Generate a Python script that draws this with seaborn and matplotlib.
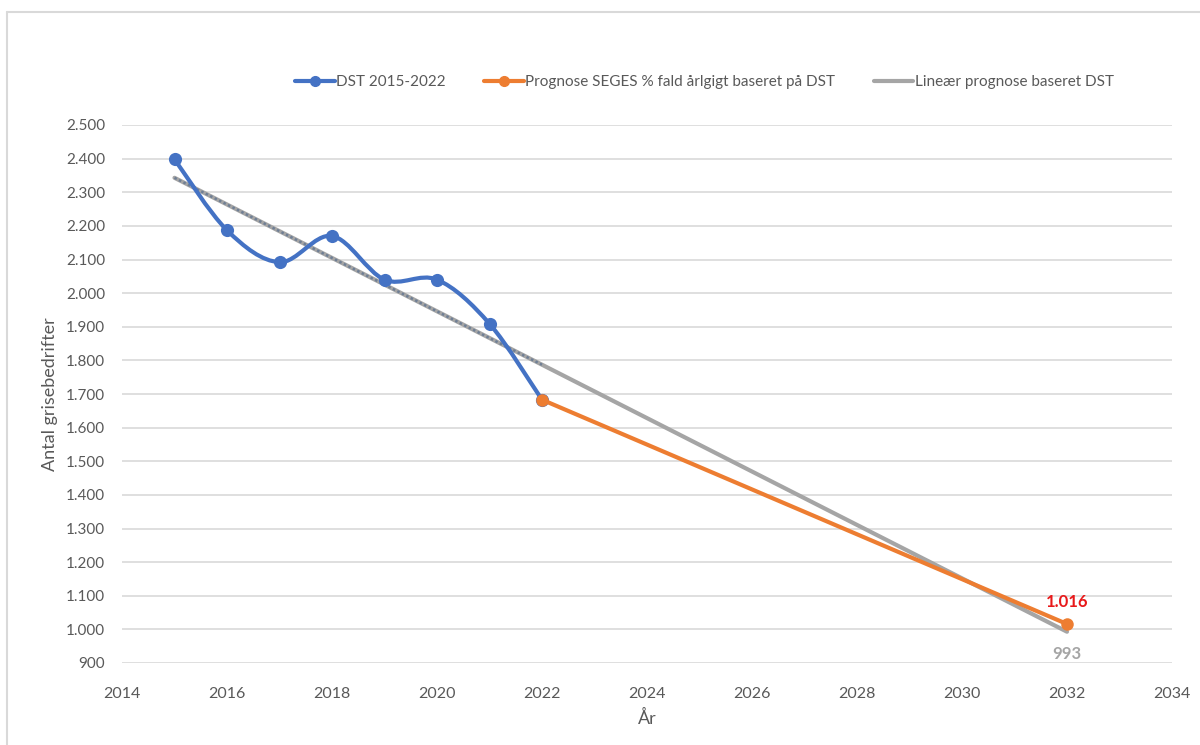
import numpy as np
import pandas as pd
import seaborn as sns
import matplotlib.pyplot as plt
from matplotlib.path import Path
from matplotlib.patches import PathPatch
from matplotlib.lines import Line2D
from matplotlib.ticker import FuncFormatter

# ---- data ----
years_dst = [2015, 2016, 2017, 2018, 2019, 2020, 2021, 2022]
dst = [2398, 2187, 2092, 2170, 2040, 2040, 1909, 1683]
years_seges = [2022, 2032]
seges = [1683, 1016]
years_lin = [2015, 2032]
lin = [2343, 993]
years_trend = [2015, 2022]
trend = [2343, 1787]
labels = ["DST 2015-2022", "Prognose SEGES % fald årlgigt baseret på DST",
          "Lineær prognose baseret DST"]
y_ticks = list(range(900, 2501, 100))
x_ticks = list(range(2014, 2035, 2))

BLUE = "#4472C4"
ORANGE = "#ED7D31"
GRAY = "#A5A5A5"
TXT = "#595959"

sns.set_theme(style="white")
plt.rcParams["font.family"] = ["Lato", "DejaVu Sans"]

fig = plt.figure(figsize=(12, 7.45), dpi=100)
ax = fig.add_axes([122 / 1200, 1 - 663 / 745, 1050 / 1200, 538 / 745])

# linear forecast (gray) + dotted trendline
sns.lineplot(x=years_lin, y=lin, ax=ax, color=GRAY, lw=3, zorder=2)
sns.lineplot(x=years_trend, y=trend, ax=ax, color="#6f7f95", lw=1.8,
             linestyle=(0, (1, 1)), zorder=3)

# smoothed DST curve (Catmull-Rom style Bezier as in Excel)
pts = np.column_stack([years_dst, dst]).astype(float)
verts = [tuple(pts[0])]
codes = [Path.MOVETO]
n = len(pts)
for i in range(n - 1):
    p0 = pts[i - 1] if i > 0 else pts[i]
    p1 = pts[i]
    p2 = pts[i + 1]
    p3 = pts[i + 2] if i + 2 < n else pts[i + 1]
    c1 = p1 + (p2 - p0) / 6.0
    c2 = p2 - (p3 - p1) / 6.0
    verts += [tuple(c1), tuple(c2), tuple(p2)]
    codes += [Path.CURVE4] * 3
ax.add_patch(PathPatch(Path(verts, codes), facecolor="none", edgecolor=BLUE,
                       lw=3, zorder=4, capstyle="round", joinstyle="round"))
sns.scatterplot(x=years_dst, y=dst, ax=ax, color=BLUE, s=90, edgecolor=BLUE,
                linewidth=0, zorder=5)

# SEGES forecast
sns.lineplot(x=years_seges, y=seges, ax=ax, color=ORANGE, lw=3, zorder=6,
             marker="o", markersize=9, markeredgewidth=0)

# annotations
ax.annotate("1.016", (years_seges[-1], seges[-1]), xytext=(0, 10),
            textcoords="offset points", ha="center", va="bottom",
            color="#E8191A", fontsize=12, fontweight="bold")
ax.annotate("993", (years_lin[-1], lin[-1]), xytext=(0, -10),
            textcoords="offset points", ha="center", va="top",
            color=GRAY, fontsize=12, fontweight="bold")

# axes
ax.set_xlim(2014, 2034)
ax.set_ylim(900, 2500)
ax.set_xticks(x_ticks)
ax.set_yticks(y_ticks)
ax.yaxis.set_major_formatter(FuncFormatter(lambda v, p: f"{int(v):,}".replace(",", ".")))
ax.tick_params(axis="both", length=0, labelsize=11, labelcolor=TXT)
ax.tick_params(axis="x", labelsize=11.5, pad=17)
ax.tick_params(axis="y", pad=12)
ax.grid(axis="y", color="#d9d9d9", lw=1.2)
ax.grid(axis="x", visible=False)
for s in ax.spines.values():
    s.set_visible(False)
ax.set_axisbelow(True)
ax.set_xlabel("År", fontsize=13, color=TXT, labelpad=7)
ax.set_ylabel("Antal grisebedrifter", fontsize=13, color=TXT, labelpad=6)

# legend
handles = [
    Line2D([], [], color=BLUE, lw=3, marker="o", markersize=7),
    Line2D([], [], color=ORANGE, lw=3, marker="o", markersize=7),
    Line2D([], [], color=GRAY, lw=3),
]
fig.legend(handles, labels, loc="center", bbox_to_anchor=(0.587, 1 - 82 / 745),
           ncol=3, frameon=False, fontsize=11, labelcolor=TXT,
           handlelength=2.6, handletextpad=0.1, columnspacing=2.5)

# outer chart border
fig.add_artist(Line2D([7 / 1200, 7 / 1200], [0, 1 - 12 / 745],
                      transform=fig.transFigure, color="#d9d9d9", lw=1.5))
fig.add_artist(Line2D([7 / 1200, 1], [1 - 12 / 745, 1 - 12 / 745],
                      transform=fig.transFigure, color="#d9d9d9", lw=1.5))

fig.savefig("out.png", dpi=100, facecolor="white")
